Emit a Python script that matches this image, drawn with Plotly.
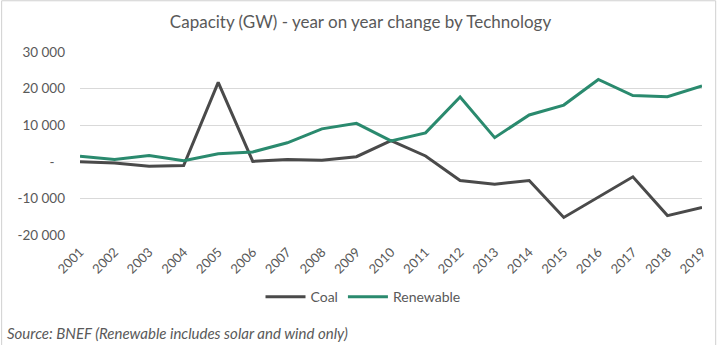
import plotly.graph_objects as go

years = [str(y) for y in range(2001, 2020)]
coal = [0, -300, -1200, -1000, 21700, 100, 600, 400, 1400, 5800, 1600, -5100, -6100, -5100,
        -15200, -9600, -4100, -14700, -12500]
renewable = [1500, 600, 1700, 300, 2200, 2700, 5200, 9000, 10500, 5700, 7900, 17700, 6600,
             12800, 15500, 22500, 18100, 17800, 20700]
tick_vals = [-20000, -10000, 0, 10000, 20000, 30000]
tick_text = ["-20 000", "-10 000", "-   ", "10 000", "20 000", "30 000"]

font = "Lato"
txt = "#595959"

fig = go.Figure()
fig.add_trace(go.Scatter(x=years, y=coal, name="Coal", mode="lines",
                         line=dict(color="#4a4a4a", width=3)))
fig.add_trace(go.Scatter(x=years, y=renewable, name="Renewable", mode="lines",
                         line=dict(color="#2a8a6e", width=3)))

fig.update_layout(
    width=721, height=345,
    margin=dict(l=80, r=15, t=52, b=110),
    paper_bgcolor="white", plot_bgcolor="white",
    font=dict(family=font, color=txt, size=13),
    title=dict(text="Capacity (GW) - year on year change by Technology",
               x=0.5, xanchor="center", y=0.935, yanchor="middle",
               font=dict(size=17, color=txt, family=font)),
    showlegend=True,
    legend=dict(orientation="h", x=0.455, xanchor="center", y=-0.34, yanchor="middle",
                font=dict(size=14, color=txt), itemwidth=40),
    xaxis=dict(type="category", tickangle=-45, showgrid=False, showline=False,
               ticks="", ticklabelstandoff=6, tickfont=dict(size=13, color=txt)),
    yaxis=dict(range=[-20000, 30000], tickvals=tick_vals, ticktext=tick_text,
               showgrid=True, gridcolor="#d9d9d9", gridwidth=1, zeroline=False,
               showline=False, ticks="", ticklabelstandoff=14,
               tickfont=dict(size=13.5, color=txt)),
)
fig.add_annotation(text="<i>Source: BNEF (Renewable includes solar and wind only)</i>",
                   xref="paper", yref="paper", x=-0.12, y=-0.535, xanchor="left",
                   yanchor="middle", showarrow=False, font=dict(size=15, color=txt))
fig.add_shape(type="rect", xref="paper", yref="paper", x0=-0.126, x1=1.022, y0=-0.61, y1=1.28,
              line=dict(color="#d0d0d0", width=1))
fig.write_html("out.html")
